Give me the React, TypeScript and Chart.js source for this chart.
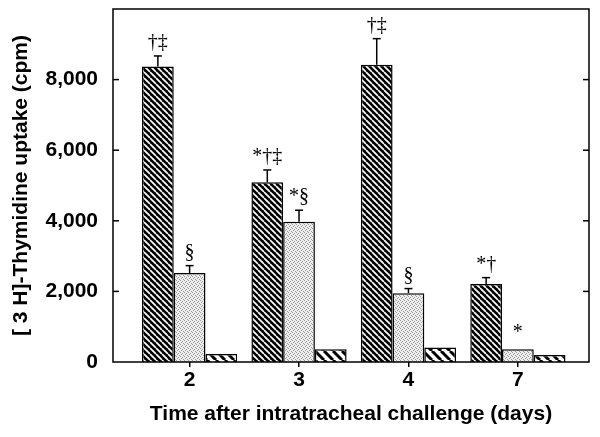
import { useEffect, useRef } from 'react';
import { Chart, registerables } from 'chart.js';

Chart.register(...registerables);

const categories = ['2', '3', '4', '7'];
const darkValues = [8370, 5090, 8420, 2210];
const darkErrors = [300, 350, 740, 180];
const darkMarks = ['†‡', '*†‡', '†‡', '*†'];
const dottedValues = [2520, 3970, 1950, 360];
const dottedErrors = [210, 330, 130, 0];
const dottedMarks = ['§', '*§', '§', '*'];
const stripedValues = [230, 360, 410, 200];
const stripedErrors = [0, 0, 0, 0];
const stripedMarks = ['', '', '', ''];
const yTickValues = [0, 2000, 4000, 6000, 8000, 10000];

function stripePattern(bg: string, fg: string, size: number, lw: number) {
  const c = document.createElement('canvas');
  c.width = size;
  c.height = size;
  const g = c.getContext('2d')!;
  g.fillStyle = bg;
  g.fillRect(0, 0, size, size);
  g.strokeStyle = fg;
  g.lineWidth = lw;
  for (const k of [-size, 0, size]) {
    g.beginPath();
    g.moveTo(k, 0);
    g.lineTo(k + size, size);
    g.stroke();
  }
  return g.createPattern(c, 'repeat')!;
}

function dotPattern() {
  const c = document.createElement('canvas');
  c.width = 4;
  c.height = 4;
  const g = c.getContext('2d')!;
  g.fillStyle = '#eeeeee';
  g.fillRect(0, 0, 4, 4);
  g.fillStyle = '#9a9a9a';
  [[0, 0], [2, 1], [1, 2], [3, 3]].forEach(([x, y]) => g.fillRect(x, y, 1, 1));
  return g.createPattern(c, 'repeat')!;
}

const overlay = {
  id: 'overlay',
  afterDatasetsDraw(chart: any) {
    const { ctx, chartArea: a } = chart;
    const y = chart.scales.y;
    const line = (x1: number, y1: number, x2: number, y2: number) => {
      ctx.beginPath();
      ctx.moveTo(x1, y1);
      ctx.lineTo(x2, y2);
      ctx.stroke();
    };
    ctx.save();
    ctx.strokeStyle = '#000';
    ctx.lineWidth = 1.5;
    ctx.strokeRect(a.left, a.top, a.right - a.left, a.bottom - a.top);
    y.ticks.forEach((t: any) => {
      if (t.value <= y.min || t.value >= y.max) return;
      const py = y.getPixelForValue(t.value);
      line(a.left, py, a.left + 6, py);
      line(a.right - 6, py, a.right, py);
    });
    chart.data.datasets.forEach((ds: any, di: number) => {
      const meta = chart.getDatasetMeta(di);
      meta.data.forEach((bar: any, i: number) => {
        const v = ds.data[i].y;
        const e = ds.errors[i];
        let topPx = bar.y;
        if (e > 0) {
          const ey = y.getPixelForValue(v + e);
          line(bar.x, bar.y, bar.x, ey);
          line(bar.x - 4, ey, bar.x + 4, ey);
          topPx = ey;
        }
        const m = ds.marks[i];
        if (m) {
          ctx.fillStyle = '#000';
          ctx.font = '20px "Liberation Serif"';
          ctx.textAlign = 'center';
          ctx.textBaseline = 'alphabetic';
          ctx.fillText(m, bar.x, topPx - (e > 0 ? 8 : 11));
        }
      });
    });
    ctx.restore();
  },
};

export default function App() {
  const ref = useRef<HTMLCanvasElement>(null);
  useEffect(() => {
    const toXY = (vals: number[]) => vals.map((v, i) => ({ x: i, y: v }));
    const font = { family: '"Liberation Sans", Arial, sans-serif', size: 21, weight: 'bold' as const };
    const chart = new Chart(ref.current!, {
      type: 'bar',
      data: {
        datasets: [
          { data: toXY(darkValues), backgroundColor: stripePattern('#000', '#fff', 6, 1.7), borderColor: '#000', borderWidth: 1.5, errors: darkErrors, marks: darkMarks } as any,
          { data: toXY(dottedValues), backgroundColor: dotPattern(), borderColor: '#000', borderWidth: 1.5, errors: dottedErrors, marks: dottedMarks } as any,
          { data: toXY(stripedValues), backgroundColor: stripePattern('#fff', '#000', 9, 3), borderColor: '#000', borderWidth: 1.5, errors: stripedErrors, marks: stripedMarks } as any,
        ],
      },
      options: {
        responsive: false,
        animation: false,
        devicePixelRatio: 1,
        layout: { padding: { left: 0, right: 11, top: 9, bottom: 0 } },
        plugins: { legend: { display: false }, tooltip: { enabled: false } },
        datasets: { bar: { categoryPercentage: 0.87, barPercentage: 1 } },
        scales: {
          x: {
            type: 'linear',
            min: -0.7,
            max: 3.65,
            offset: false,
            afterBuildTicks: (s: any) => {
              s.ticks = categories.map((_, i) => ({ value: i }));
            },
            afterFit: (s: any) => {
              s.height = 75;
              s.paddingLeft = 0;
              s.paddingRight = 0;
            },
            grid: { drawOnChartArea: false, offset: false, color: '#000', lineWidth: 1.5, tickLength: 5 },
            border: { display: false },
            ticks: {
              callback: (v: any) => categories[v] ?? '',
              font,
              color: '#000',
              padding: 1,
              maxRotation: 0,
              autoSkip: false,
            },
            title: {
              display: true,
              text: 'Time after intratracheal challenge (days)',
              font,
              color: '#000',
              padding: { top: 0, bottom: 10 },
            },
          },
          y: {
            min: 0,
            max: 10000,
            afterBuildTicks: (s: any) => {
              s.ticks = yTickValues.map((v) => ({ value: v }));
            },
            afterFit: (s: any) => {
              s.width = 113;
              s.paddingTop = 0;
              s.paddingBottom = 0;
            },
            grid: { display: false, drawTicks: false },
            border: { display: false },
            ticks: {
              callback: (v: any) => (v >= 10000 ? null : Number(v).toLocaleString('en-US')),
              font,
              color: '#000',
              padding: 15,
            },
            title: {
              display: true,
              text: '[ 3 H]-Thymidine uptake (cpm)',
              font,
              color: '#000',
              padding: { top: 9, bottom: 0 },
            },
          },
        },
      } as any,
      plugins: [overlay],
    });
    return () => chart.destroy();
  }, []);
  return (
    <div style={{ position: 'absolute', left: 0, top: 0, width: 600, height: 437, background: '#fff' }}>
      <canvas ref={ref} width={600} height={437} />
    </div>
  );
}
